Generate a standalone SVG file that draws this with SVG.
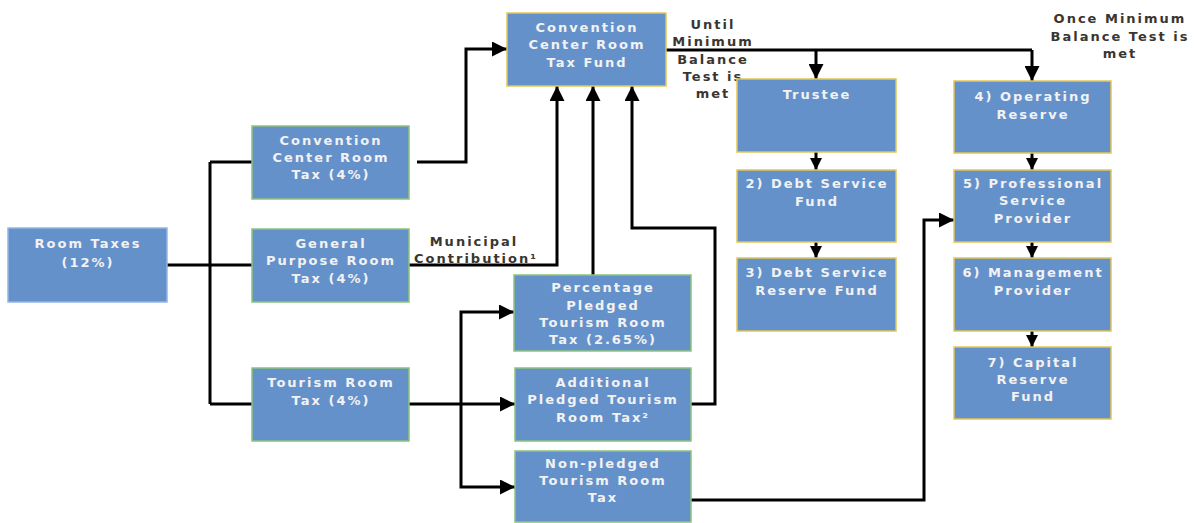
<svg xmlns="http://www.w3.org/2000/svg" width="1195" height="523" viewBox="0 0 1195 523">
<style>
.box{fill:#6591cb;stroke-width:1.5}
.g{stroke:#8cc47c}
.y{stroke:#e3c656}
.b{stroke:#93b6e6}
.t{font-family:"DejaVu Sans",Verdana,sans-serif;font-weight:bold;font-size:13px;letter-spacing:2px;fill:#f2f2f2;text-anchor:middle}
.lbl{font-family:"DejaVu Sans",Verdana,sans-serif;font-weight:bold;font-size:13px;letter-spacing:2px;fill:#3b3530;text-anchor:middle}
.c{fill:none;stroke:#000;stroke-width:3}
</style>
<defs>
<marker id="ah" viewBox="0 0 10 10" refX="10" refY="5" markerWidth="17" markerHeight="15" markerUnits="userSpaceOnUse" orient="auto"><path d="M0,0 L10,5 L0,10 z" fill="#000"/></marker>
<marker id="as" viewBox="0 0 10 10" refX="10" refY="5" markerWidth="12" markerHeight="16" markerUnits="userSpaceOnUse" orient="auto"><path d="M0,0 L10,5 L0,10 z" fill="#000"/></marker>
</defs>
<g id="connectors">
<path class="c" d="M167,265 H252 M210,162 V404 M210,162 H252 M210,404 H252"/>
<path class="c" d="M417,162 H466 V49 H507" marker-end="url(#ah)"/>
<path class="c" d="M409,265 H557 V86" marker-end="url(#ah)"/>
<path class="c" d="M593,275 V86" marker-end="url(#ah)"/>
<path class="c" d="M691,404 H715 V228 H632 V86" marker-end="url(#ah)"/>
<path class="c" d="M666,50 H1032"/>
<path class="c" d="M816,50 V79" marker-end="url(#ah)"/>
<path class="c" d="M1032,50 V81" marker-end="url(#ah)"/>
<path class="c" d="M409,404 H515" marker-end="url(#ah)"/>
<path class="c" d="M461,404 V312 H514" marker-end="url(#ah)"/>
<path class="c" d="M461,404 V487 H515" marker-end="url(#ah)"/>
<path class="c" d="M691,500 H924 V220 H954" marker-end="url(#ah)"/>
<path class="c" d="M816,152 V170" marker-end="url(#as)"/>
<path class="c" d="M816,242 V258" marker-end="url(#as)"/>
<path class="c" d="M1032,153 V170" marker-end="url(#as)"/>
<path class="c" d="M1032,242 V258" marker-end="url(#as)"/>
<path class="c" d="M1032,331 V347" marker-end="url(#as)"/>
<text class="lbl" x="474" y="246">Municipal</text>
<text class="lbl" x="476" y="263">Contribution¹</text>
<text class="lbl" x="713" y="29">Until</text>
<text class="lbl" x="713" y="46">Minimum</text>
<text class="lbl" x="713" y="64">Balance</text>
<text class="lbl" x="713" y="81">Test is</text>
<text class="lbl" x="713" y="98">met</text>
<text class="lbl" x="1120" y="23">Once Minimum</text>
<text class="lbl" x="1120" y="41">Balance Test is</text>
<text class="lbl" x="1120" y="58">met</text>
</g>
<g id="room-taxes"><rect class="box b" x="8" y="228" width="159" height="74"/><text class="t" x="88" y="248">Room Taxes</text><text class="t" x="88" y="267">(12%)</text></g>
<g id="cc-room-tax"><rect class="box g" x="252" y="126" width="157" height="73"/><text class="t" x="331" y="145">Convention</text><text class="t" x="331" y="162">Center Room</text><text class="t" x="331" y="179">Tax (4%)</text></g>
<g id="gp-room-tax"><rect class="box g" x="252" y="229" width="157" height="73"/><text class="t" x="331" y="248">General</text><text class="t" x="331" y="265">Purpose Room</text><text class="t" x="331" y="283">Tax (4%)</text></g>
<g id="tourism-room-tax"><rect class="box g" x="252" y="368" width="157" height="73"/><text class="t" x="331" y="387">Tourism Room</text><text class="t" x="331" y="405">Tax (4%)</text></g>
<g id="cc-fund"><rect class="box y" x="507" y="13" width="159" height="73"/><text class="t" x="587" y="32">Convention</text><text class="t" x="587" y="49">Center Room</text><text class="t" x="587" y="67">Tax Fund</text></g>
<g id="pct-pledged"><rect class="box g" x="514" y="275" width="177" height="76"/><text class="t" x="603" y="292">Percentage</text><text class="t" x="603" y="310">Pledged</text><text class="t" x="603" y="327">Tourism Room</text><text class="t" x="603" y="344">Tax (2.65%)</text></g>
<g id="add-pledged"><rect class="box g" x="515" y="368" width="176" height="73"/><text class="t" x="603" y="387">Additional</text><text class="t" x="603" y="404">Pledged Tourism</text><text class="t" x="603" y="422">Room Tax²</text></g>
<g id="non-pledged"><rect class="box g" x="515" y="451" width="176" height="71"/><text class="t" x="603" y="468">Non-pledged</text><text class="t" x="603" y="485">Tourism Room</text><text class="t" x="603" y="502">Tax</text></g>
<g id="trustee"><rect class="box y" x="737" y="79" width="159" height="73"/><text class="t" x="817" y="99">Trustee</text></g>
<g id="debt-service-fund"><rect class="box y" x="737" y="170" width="159" height="72"/><text class="t" x="817" y="188">2) Debt Service</text><text class="t" x="817" y="206">Fund</text></g>
<g id="debt-service-reserve"><rect class="box y" x="737" y="258" width="159" height="73"/><text class="t" x="817" y="277">3) Debt Service</text><text class="t" x="817" y="295">Reserve Fund</text></g>
<g id="operating-reserve"><rect class="box y" x="954" y="81" width="157" height="72"/><text class="t" x="1033" y="101">4) Operating</text><text class="t" x="1033" y="119">Reserve</text></g>
<g id="professional-service"><rect class="box y" x="954" y="170" width="157" height="72"/><text class="t" x="1033" y="188">5) Professional</text><text class="t" x="1033" y="205">Service</text><text class="t" x="1033" y="223">Provider</text></g>
<g id="management-provider"><rect class="box y" x="954" y="258" width="157" height="73"/><text class="t" x="1033" y="277">6) Management</text><text class="t" x="1033" y="295">Provider</text></g>
<g id="capital-reserve"><rect class="box y" x="954" y="347" width="157" height="72"/><text class="t" x="1033" y="367">7) Capital</text><text class="t" x="1033" y="384">Reserve</text><text class="t" x="1033" y="401">Fund</text></g>
</svg>
